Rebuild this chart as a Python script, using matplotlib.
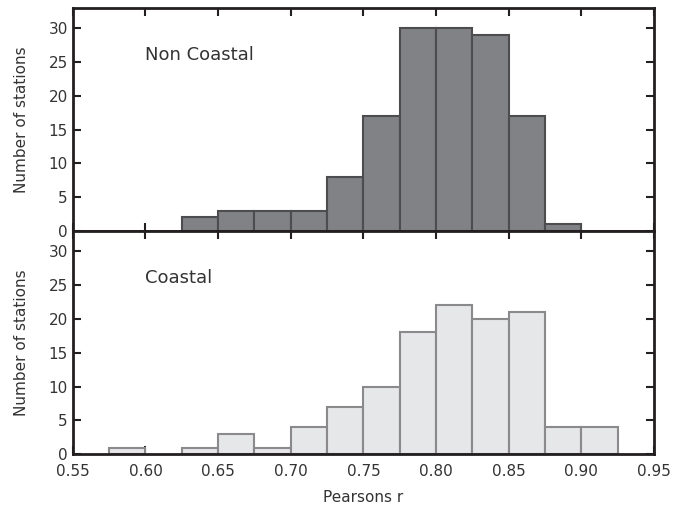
import matplotlib
matplotlib.use("Agg")
import matplotlib.pyplot as plt
import numpy as np

bin_left = [0.575, 0.600, 0.625, 0.650, 0.675, 0.700, 0.725, 0.750, 0.775, 0.800, 0.825, 0.850, 0.875, 0.900]
non_coastal = [0, 0, 2, 3, 3, 3, 8, 17, 30, 30, 29, 17, 1, 0]
coastal = [1, 0, 1, 3, 1, 4, 7, 10, 18, 22, 20, 21, 4, 4]
bin_width = 0.025
xticks = [0.55, 0.60, 0.65, 0.70, 0.75, 0.80, 0.85, 0.90, 0.95]
yticks = [0, 5, 10, 15, 20, 25, 30]

plt.rcParams['font.family'] = ['DejaVu Sans']
txt = '#333333'

fig = plt.figure(figsize=(6.87, 5.11), dpi=100)
ax1 = fig.add_axes([0.106, 0.548, 0.846, 0.436])
ax2 = fig.add_axes([0.106, 0.111, 0.846, 0.437], sharex=ax1)

def draw(ax, vals, fc, ec, label):
    xs = [b for b, v in zip(bin_left, vals) if v > 0]
    vs = [v for v in vals if v > 0]
    ax.bar(xs, vs, width=bin_width, align='edge', color=fc, edgecolor=ec, linewidth=1.5, zorder=2)
    ax.set_ylim(0, 33)
    ax.set_xlim(0.55, 0.95)
    ax.set_yticks(yticks)
    ax.set_ylabel('Number of stations', fontsize=11, color=txt)
    ax.text(0.60, 26, label, fontsize=13, color=txt, va='center', ha='left')
    for s in ax.spines.values():
        s.set_linewidth(2)
        s.set_color('#231f20')
        s.set_zorder(3)
    ax.tick_params(direction='in', top=True, right=True, length=6, width=1.5,
                   labelsize=11, labelcolor=txt, color='#231f20')

draw(ax1, non_coastal, '#808285', '#4d4d4f', 'Non Coastal')
draw(ax2, coastal, '#e6e7e8', '#8a8a8c', 'Coastal')
ax1.tick_params(labelbottom=False)
ax2.set_xticks(xticks)
ax2.set_xticklabels([f'{t:.2f}' for t in xticks])
ax2.tick_params(axis='x', pad=7)
ax2.set_xlabel('Pearsons r', fontsize=11, color=txt, labelpad=8)
ax1.yaxis.set_label_coords(-0.075, 0.5)
ax2.yaxis.set_label_coords(-0.075, 0.5)

fig.savefig('out.png', dpi=100)
